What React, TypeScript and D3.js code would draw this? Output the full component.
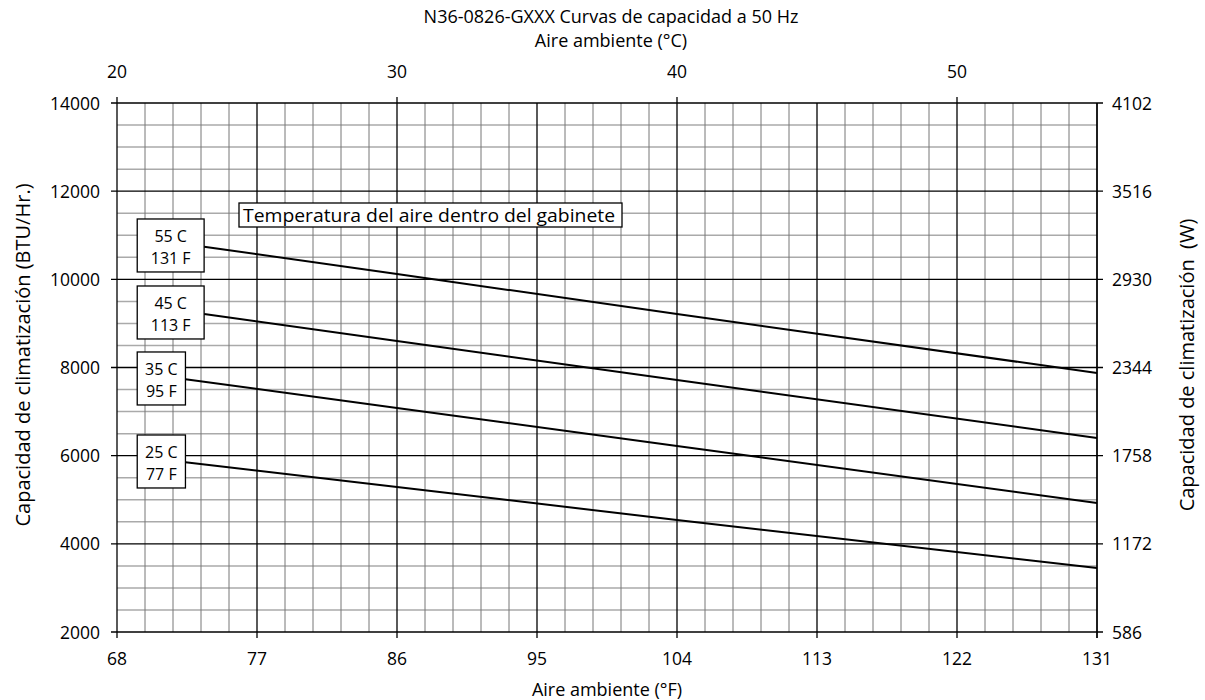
import React from "react";
import * as d3 from "d3";

const seriesNames = ["55 C|131 F", "45 C|113 F", "35 C|95 F", "25 C|77 F"];
const seriesX = [
  [73.6, 86, 104, 131],
  [73.6, 86, 104, 131],
  [72.4, 86, 104, 131],
  [72.4, 86, 104, 131],
];
const seriesY = [
  [10740, 10121, 9214, 7876],
  [9212, 8601, 7717, 6401],
  [7735, 7081, 6220, 4926],
  [5852, 5289, 4541, 3452],
];
// label boxes: [leftF, topBTU, rightF, bottomBTU]
const boxes = [
  [69.3, 11369, 73.6, 10167],
  [69.3, 9849, 73.6, 8647],
  [69.3, 8352, 72.4, 7150],
  [69.3, 6469, 72.4, 5267],
];
const fTicks = [68, 77, 86, 95, 104, 113, 122, 131];
const cTicks = [20, 30, 40, 50];
const btuTicks = [2000, 4000, 6000, 8000, 10000, 12000, 14000];
const wTicks = [586, 1172, 1758, 2344, 2930, 3516, 4102];
const title = "N36-0826-GXXX Curvas de capacidad a 50 Hz";
const noteText = "Temperatura del aire dentro del gabinete";

const FONT = "'Open Sans', sans-serif";

export default function App() {
  const x = d3.scaleLinear().domain([68, 131]).range([117, 1097]);
  const xC = d3.scaleLinear().domain([20, 55]).range([117, 1097]);
  const y = d3.scaleLinear().domain([2000, 14000]).range([632, 103]);
  const yW = d3.scaleLinear().domain([586, 4102]).range([632, 103]);
  const line = d3
    .line<[number, number]>()
    .x((d) => x(d[0]))
    .y((d) => y(d[1]));

  const minorV = d3.range(20, 55.001, 1).filter((c) => c % 5 !== 0);
  const majorV = d3.range(20, 55.001, 5);
  const minorH = d3.range(2000, 14001, 500).filter((v) => v % 2000 !== 0);

  return (
    <svg width={1205} height={700} style={{ position: "absolute", left: 0, top: 0, background: "#fff" }} fontFamily={FONT}>
      <rect width={1205} height={700} fill="#fff" />
      {minorH.map((v) => (
        <line key={"mh" + v} x1={117} x2={1097} y1={y(v)} y2={y(v)} stroke="#aaa" strokeWidth={1.5} />
      ))}
      {minorV.map((c) => (
        <line key={"mv" + c} x1={xC(c)} x2={xC(c)} y1={103} y2={632} stroke="#777" strokeWidth={1} />
      ))}
      {btuTicks.map((v) => (
        <line key={"Mh" + v} x1={111} x2={1103} y1={y(v)} y2={y(v)} stroke="#000" strokeWidth={1.3} />
      ))}
      {majorV.map((c) => (
        <line key={"Mv" + c} x1={xC(c)} x2={xC(c)} y1={c % 10 === 0 ? 97 : 103} y2={632} stroke="#000" strokeWidth={1.3} />
      ))}
      {fTicks.map((f) => (
        <line key={"ft" + f} x1={x(f)} x2={x(f)} y1={632} y2={638} stroke="#000" strokeWidth={1.3} />
      ))}
      <line x1={1097} x2={1097} y1={103} y2={638} stroke="#000" strokeWidth={1.3} />

      {seriesX.map((xs, i) => (
        <path
          key={"s" + i}
          d={line(xs.map((xv, j) => [xv, seriesY[i][j]] as [number, number])) || ""}
          fill="none"
          stroke="#000"
          strokeWidth={2}
        />
      ))}

      {boxes.map((b, i) => {
        const [l1, l2] = seriesNames[i].split("|");
        const x0 = x(b[0]);
        const y0 = y(b[1]);
        const w = x(b[2]) - x0;
        const h = y(b[3]) - y0;
        return (
          <g key={"b" + i}>
            <rect x={x0} y={y0} width={w} height={h} fill="#fff" stroke="#000" strokeWidth={1.3} />
            <text x={x0 + w / 2} y={y0 + 23} textAnchor="middle" fontSize={16}>{l1}</text>
            <text x={x0 + w / 2} y={y0 + 45} textAnchor="middle" fontSize={16}>{l2}</text>
          </g>
        );
      })}

      <rect x={239} y={203} width={383} height={24} fill="#fff" stroke="#000" strokeWidth={1.3} />
      <text x={243} y={222} fontSize={19} textLength={372} lengthAdjust="spacingAndGlyphs">{noteText}</text>

      {btuTicks.map((v) => (
        <text key={"lt" + v} x={100} y={y(v) + 6.5} textAnchor="end" fontSize={17.5}>{v}</text>
      ))}
      {wTicks.map((v) => (
        <text key={"rt" + v} x={1112} y={yW(v) + 6.5} textAnchor="start" fontSize={17.5}>{v}</text>
      ))}
      {fTicks.map((f) => (
        <text key={"bt" + f} x={x(f)} y={665} textAnchor="middle" fontSize={17.5}>{f}</text>
      ))}
      {cTicks.map((c) => (
        <text key={"tt" + c} x={xC(c)} y={78} textAnchor="middle" fontSize={17.5}>{c}</text>
      ))}

      <text x={611} y={23} textAnchor="middle" fontSize={18}>{title}</text>
      <text x={611} y={47} textAnchor="middle" fontSize={18}>Aire ambiente (°C)</text>
      <text x={607} y={696} textAnchor="middle" fontSize={18}>Aire ambiente (°F)</text>
      <text transform="translate(30,355) rotate(-90)" textAnchor="middle" fontSize={20}>Capacidad de climatización (BTU/Hr.)</text>
      <text transform="translate(1194,365) rotate(-90)" textAnchor="middle" fontSize={20} style={{ whiteSpace: "pre" }}>{"Capacidad de climatización  (W)"}</text>
    </svg>
  );
}
